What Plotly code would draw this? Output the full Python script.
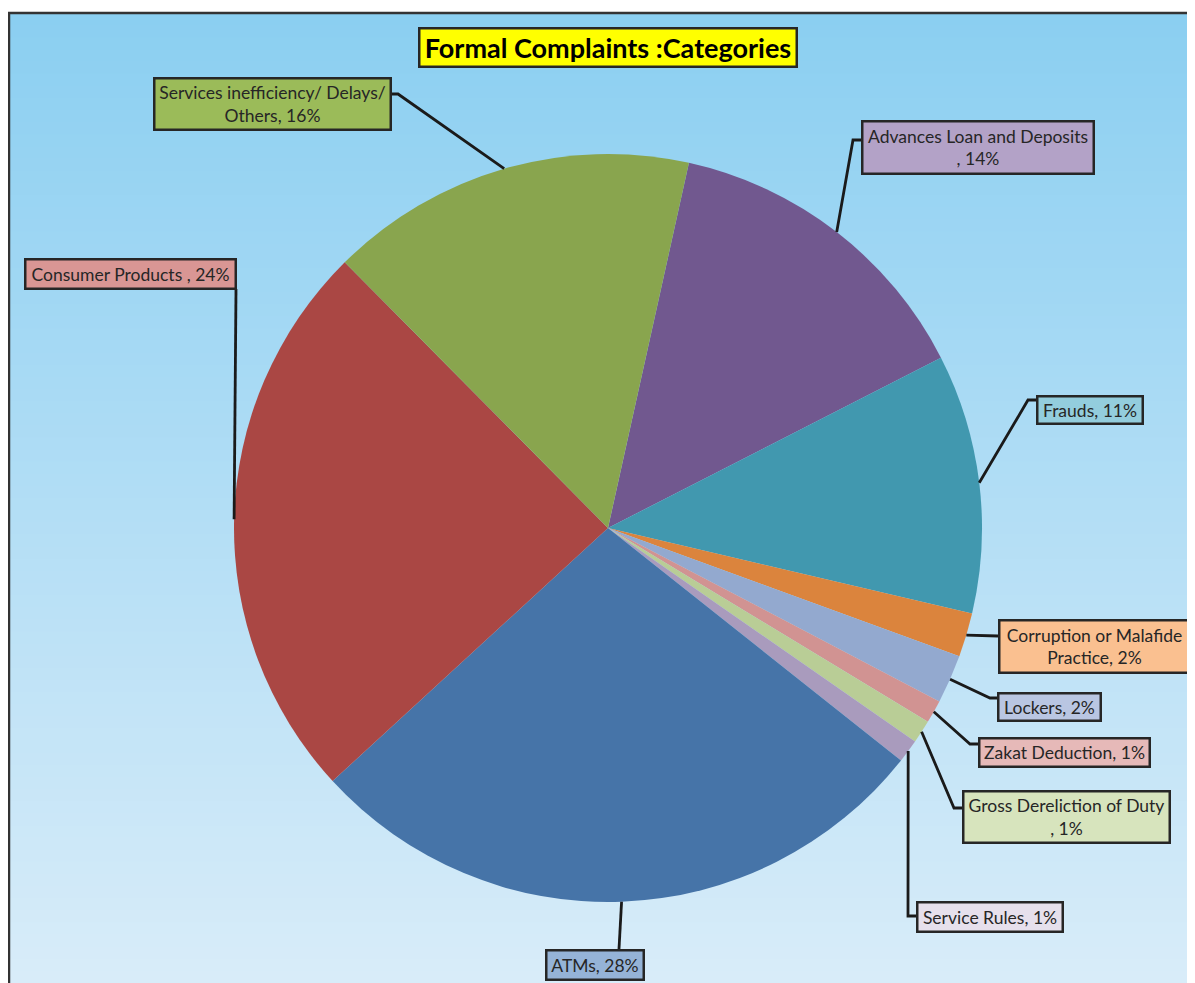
import math
import plotly.graph_objects as go

# page body has an 8px margin; the figure is drawn in pixel coordinates relative to the page
OFF = 8
W, H = 1195 - OFF, 983 - OFF

# ---- data ----
categories = ["Advances Loan and Deposits", "Frauds", "Corruption or Malafide Practice",
              "Lockers", "Zakat Deduction", "Gross Dereliction of Duty", "Service Rules",
              "ATMs", "Consumer Products", "Services inefficiency/ Delays/ Others"]
values = [14.0, 11.2, 1.9, 2.1, 1.0, 1.0, 1.0, 27.5, 24.4, 15.9]
label_text = ["Advances Loan and Deposits<br>, 14%", "Frauds, 11%",
              "Corruption or Malafide<br>Practice, 2%", "Lockers, 2%",
              "Zakat Deduction, 1%", "Gross Dereliction of Duty<br>, 1%",
              "Service Rules, 1%", "ATMs, 28%", "Consumer Products , 24%",
              "Services inefficiency/ Delays/<br>Others, 16%"]

slice_colors = ["#71588F", "#4198AF", "#DB843D", "#93A9CF", "#D19392",
                "#B9CD96", "#A99BBD", "#4674A8", "#AA4744", "#89A54E"]
box_colors = ["#B3A2C7", "#93CDDD", "#FAC090", "#B9C6E2", "#E6B9B8",
              "#D7E4BD", "#E6E0EC", "#95B3D7", "#D99694", "#9BBB59"]

# ---- layout (page pixels) ----
CX, CY, R = 608, 528, 374
ROT = 12.5
boxes = [(861, 121, 1094, 175), (1036, 395, 1143, 424), (998, 619, 1190, 673),
         (997, 692, 1101, 721), (978, 737, 1150, 767), (962, 790, 1170, 843),
         (916, 901, 1063, 932), (545, 949, 644, 980), (24, 258, 236, 289),
         (153, 77, 391, 130)]
elbows = [[(861, 140), (853, 140)], [(1036, 400), (1028, 400)], [(998, 636)],
          [(997, 698), (990, 698)], [(978, 744), (970, 744)], [(962, 808), (954, 808)],
          [(916, 916), (908, 916)], [(619, 949)], [(236, 289)],
          [(391, 94), (398, 94)]]


def px(x):
    return (x - OFF) / W


def py(y):
    return 1 - (y - OFF) / H


FONT = "Lato, Open Sans, sans-serif"

fig = go.Figure()
fig.add_trace(go.Pie(
    labels=categories, values=values, sort=False, direction="clockwise",
    rotation=ROT, textinfo="none", hoverinfo="label+percent",
    marker=dict(colors=slice_colors, line=dict(width=0)),
    domain=dict(x=[px(CX - R), px(CX + R)], y=[py(CY + R), py(CY - R)]),
    showlegend=False,
))

shapes = []
top_c = (139, 207, 241)
bot_c = (216, 236, 249)
n = 80
y0, y1 = 13, 983
for i in range(n):
    t = i / (n - 1)
    c = tuple(int(round(top_c[k] + (bot_c[k] - top_c[k]) * t)) for k in range(3))
    ya = y0 + (y1 - y0) * i / n
    yb = min(y0 + (y1 - y0) * (i + 1) / n + 1, 983)
    shapes.append(dict(type="rect", xref="paper", yref="paper", layer="below",
                       x0=px(9), x1=1, y0=py(ya), y1=py(yb),
                       fillcolor="rgb(%d,%d,%d)" % c, line=dict(width=0)))
shapes.append(dict(type="path", xref="paper", yref="paper", layer="above",
                   path="M %f,%f L %f,%f L %f,%f" % (px(9), py(983), px(9), py(13), 1.0, py(13)),
                   line=dict(color="#333333", width=2.5)))

total = sum(values)
cum = 0.0
for i, v in enumerate(values):
    mid = ROT + (cum + v / 2) / total * 360
    cum += v
    a = math.radians(mid)
    ax, ay = CX + R * math.sin(a), CY - R * math.cos(a)
    pts = elbows[i] + [(ax, ay)]
    path = "M " + " L ".join("%f,%f" % (px(x), py(y)) for x, y in pts)
    shapes.append(dict(type="path", xref="paper", yref="paper", layer="above",
                       path=path, line=dict(color="#1a1a1a", width=2.8)))

annotations = []
for i, (l, t, r, b) in enumerate(boxes):
    annotations.append(dict(
        x=px((l + r) / 2), y=py((t + b) / 2), xref="paper", yref="paper",
        xanchor="center", yanchor="middle", showarrow=False,
        text=label_text[i], align="center",
        width=r - l - 4, height=b - t - 4, borderpad=0,
        bgcolor=box_colors[i], bordercolor="#262626", borderwidth=2.5,
        font=dict(family=FONT, size=17.5, color="#262626"),
    ))
annotations.append(dict(
    x=px((418 + 797) / 2), y=py((28 + 68) / 2), xref="paper", yref="paper",
    xanchor="center", yanchor="middle", showarrow=False,
    text="<b>Formal Complaints :Categories</b>",
    width=797 - 418 - 4, height=68 - 28 - 4, borderpad=0,
    bgcolor="#FFFF00", bordercolor="#262626", borderwidth=2.5,
    font=dict(family=FONT, size=27, color="#000000"),
))

fig.update_layout(
    width=W, height=H, margin=dict(l=0, r=0, t=0, b=0),
    paper_bgcolor="white", plot_bgcolor="white",
    shapes=shapes, annotations=annotations,
)
fig.write_html("out.html")
